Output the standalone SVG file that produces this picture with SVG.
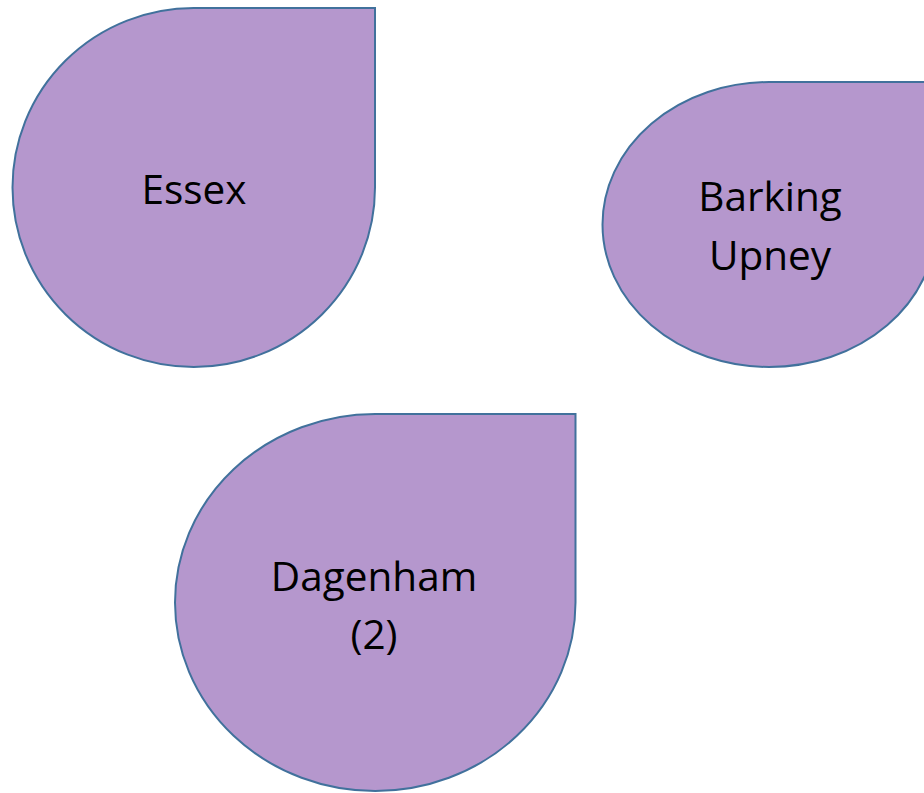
<svg xmlns="http://www.w3.org/2000/svg" width="924" height="793" viewBox="0 0 924 793">
<style>
.drop{fill:#B597CD;stroke:#41719C;stroke-width:2}
.lbl{font-family:"Open Sans","Liberation Sans",Arial,sans-serif;font-size:40.5px;fill:#000;text-anchor:middle}
</style>
<rect width="924" height="793" fill="#fff"/>
<g id="essex">
<path class="drop" d="M375,8 L375,187.5 A181.25,179.5 0 1 1 193.75,8 Z"/>
<text class="lbl" x="194" y="204">Essex</text>
</g>
<g id="barking-upney">
<path class="drop" d="M936,82 L936,224.5 A166.75,142.5 0 1 1 769.25,82 Z"/>
<text class="lbl" x="770" y="211">Barking</text>
<text class="lbl" x="770" y="270">Upney</text>
</g>
<g id="dagenham">
<path class="drop" d="M575.5,414 L575.5,602.5 A200.25,188.5 0 1 1 375.25,414 Z"/>
<text class="lbl" x="374" y="591">Dagenham</text>
<text class="lbl" x="374" y="649">(2)</text>
</g>
<g id="connectors"></g>
</svg>
